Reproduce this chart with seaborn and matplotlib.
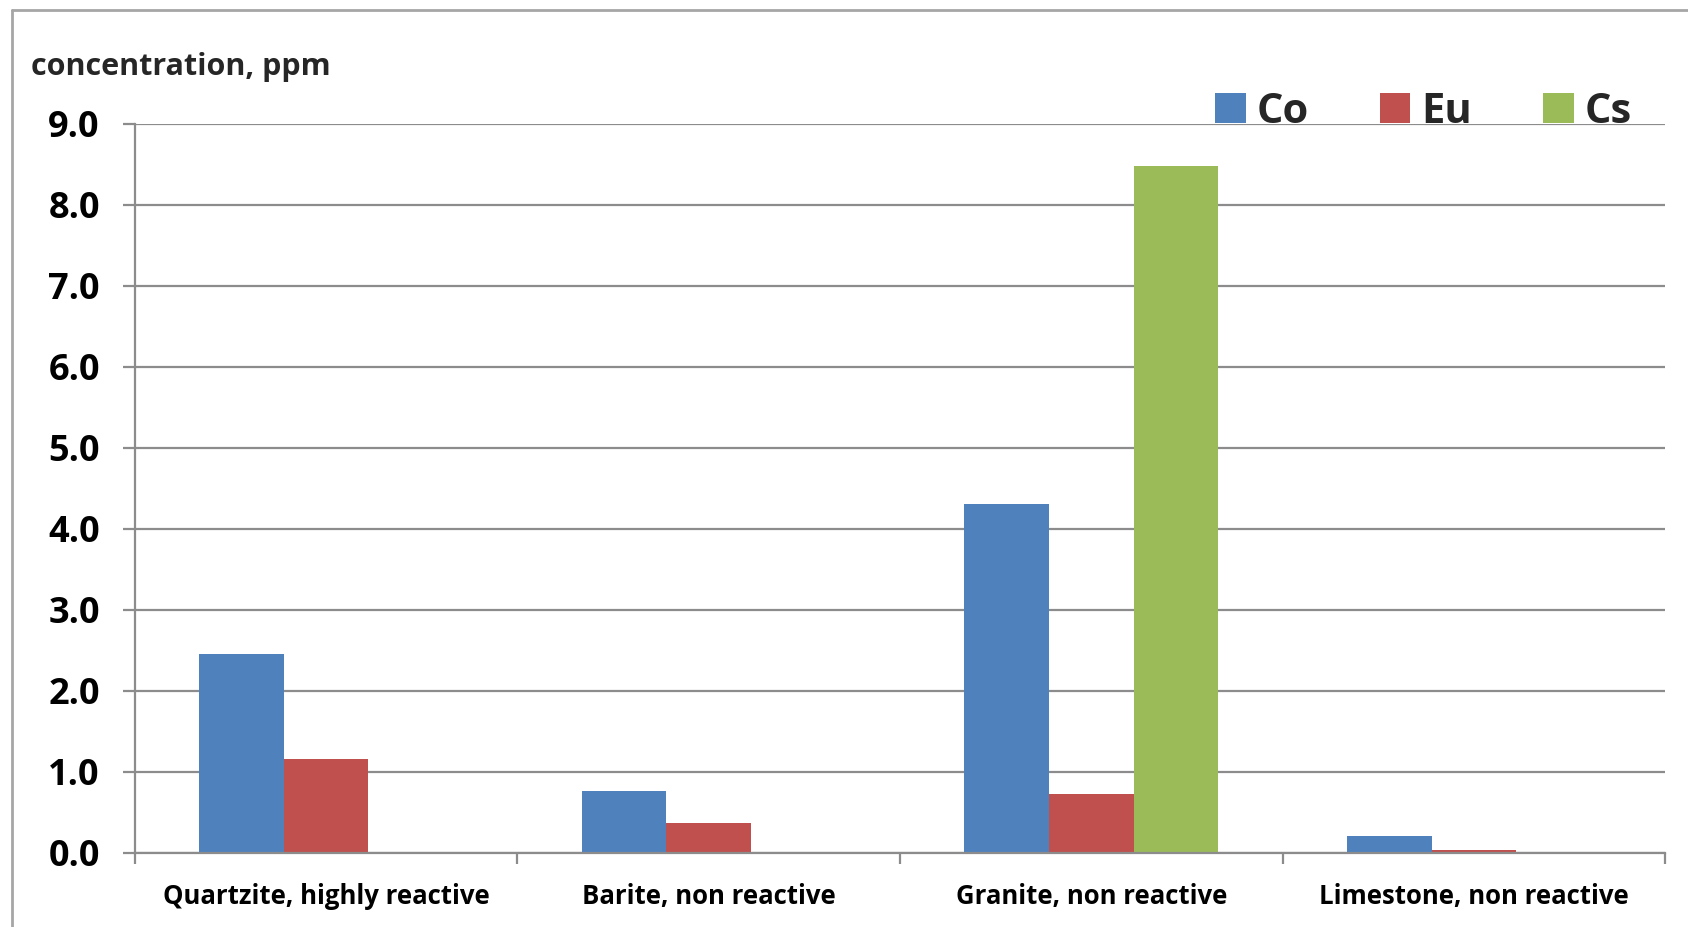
import numpy as np
import pandas as pd
import matplotlib
matplotlib.use("Agg")
import matplotlib.pyplot as plt
import seaborn as sns
from matplotlib.patches import Patch
from matplotlib.lines import Line2D

# Rock types and measured concentrations (ppm)
rocks = ["Quartzite, highly reactive", "Barite, non reactive",
         "Granite, non reactive", "Limestone, non reactive"]
elements = ["Co", "Eu", "Cs"]
co_values = [2.45, 0.76, 4.31, 0.20]
eu_values = [1.16, 0.37, 0.72, 0.03]
cs_values = [np.nan, np.nan, 8.48, np.nan]
colors = ["#4F81BD", "#C0504D", "#9BBB59"]
y_ticks = [0, 1, 2, 3, 4, 5, 6, 7, 8, 9]

df = pd.DataFrame({
    "rock": rocks * 3,
    "element": ["Co"] * 4 + ["Eu"] * 4 + ["Cs"] * 4,
    "value": co_values + eu_values + cs_values,
})

sns.set_theme(style="white")
plt.rcParams["font.family"] = ["Open Sans", "DejaVu Sans"]

fig = plt.figure(figsize=(16.88, 9.27), dpi=100)
ax = fig.add_axes([0.0797, 0.0803, 0.9069, 0.7862])

sns.barplot(data=df, x="rock", y="value", hue="element", order=rocks,
            hue_order=elements, palette=colors, width=0.663, gap=0,
            saturation=1, linewidth=0, errorbar=None, legend=False, ax=ax)

grid_col = "#8C8C8C"
ax.set_ylim(0, 9)
ax.set_xlim(-0.5, 3.5)
ax.set_yticks(y_ticks)
ax.set_yticklabels([f"{v:.1f}" for v in y_ticks], fontsize=26, fontweight="bold")
ax.yaxis.grid(True, color=grid_col, linewidth=1.6)
ax.set_axisbelow(True)
for s in ["top", "right"]:
    ax.spines[s].set_visible(False)
for s in ["left", "bottom"]:
    ax.spines[s].set_color(grid_col)
    ax.spines[s].set_linewidth(1.6)

ax.tick_params(axis="y", which="major", left=True, length=9, width=1.6,
               color=grid_col, pad=16, labelcolor="black")
ax.tick_params(axis="x", which="major", bottom=False, labelsize=18.5, pad=16,
               labelcolor="black")
for lbl in ax.get_xticklabels():
    lbl.set_fontweight("bold")
ax.set_xticks([-0.5, 0.5, 1.5, 2.5, 3.5], minor=True)
ax.tick_params(axis="x", which="minor", bottom=True, length=8, width=1.6,
               color=grid_col)
ax.set_xlabel("")
ax.set_ylabel("")

fig.text(0.0185, 0.928, "concentration, ppm", fontsize=22, fontweight="bold",
         va="center", ha="left")

handles = [Patch(facecolor=c, edgecolor="none", label=e)
           for c, e in zip(colors, elements)]
leg = ax.legend(handles=handles, ncol=3, frameon=False, loc="lower right",
                bbox_to_anchor=(0.978, 0.988),
                prop={"weight": "bold", "size": 30},
                handlelength=0.74, handleheight=0.74, handletextpad=0.26,
                columnspacing=1.7, borderaxespad=0, borderpad=0)

# Outer chart frame (left and top edges)
fig.add_artist(Line2D([12 / 1688, 12 / 1688], [0, 1 - 10 / 927],
                      transform=fig.transFigure, color="#A6A6A6", linewidth=2))
fig.add_artist(Line2D([12 / 1688, 1], [1 - 10 / 927, 1 - 10 / 927],
                      transform=fig.transFigure, color="#A6A6A6", linewidth=2))

fig.savefig("out.png", dpi=100, facecolor="white")
